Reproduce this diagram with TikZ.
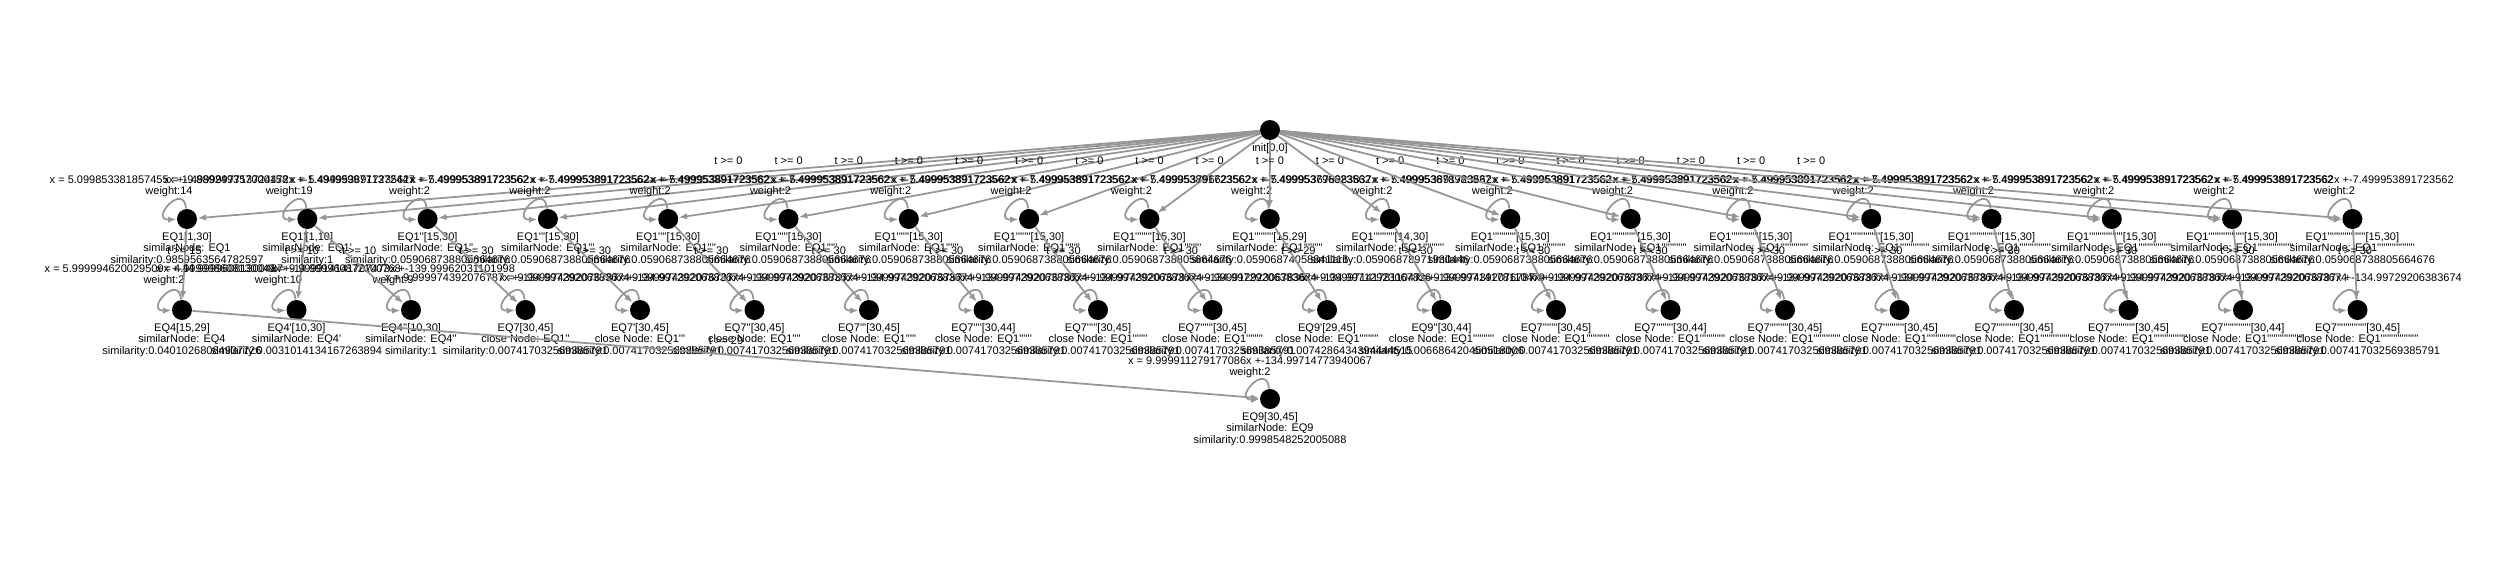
\documentclass[tikz,border=0pt]{standalone}
\usepackage{fontspec}
\setmainfont{Liberation Sans}
\usepackage{tikz}
\usetikzlibrary{arrows.meta,positioning}

\definecolor{edgegray}{RGB}{150,150,150}
\newcommand{\primes}[1]{\ifnum#1>0 \foreach \q in {1,...,#1}{\textquotesingle}\fi}

\tikzset{
  state/.style={circle,fill=black,inner sep=0pt,minimum size=8pt},
  info/.style={font=\fontsize{4.4}{4.6}\selectfont,align=center,inner sep=0pt},
  edge/.style={draw=edgegray,line width=0.7pt,-{Latex[length=3.4pt,width=2.6pt]}},
  guard/.style={info,midway,yshift=5.6pt},
  selfloop/.style={edge,out=95,in=182,min distance=11pt},
}

\begin{document}
\begin{tikzpicture}[x=0.4pt,y=0.4pt]
\useasboundingbox (0,0) rectangle (2500,562);

% init
\node[state] (init) at (1270,432) {};
\node[info,below=1pt of init] (init-txt) {init[0,0]};

% first level: EQ1 copies
\foreach \i/\intv/\sml/\xeq/\w in {
  0/{[1,30]}/{0.9859563564782597}/{x = 5.099853381857455x +-9.889249357000158}/14,
  1/{[1,10]}/{1}/{x = 1.4999997713724472x +-1.4949999771372447}/19,
  2/{[15,30]}/{0.059068738805664676}/{x = 5.499953891723562x +-7.499953891723562}/2,
  3/{[15,30]}/{0.059068738805664676}/{x = 5.499953891723562x +-7.499953891723562}/2,
  4/{[15,30]}/{0.059068738805664676}/{x = 5.499953891723562x +-7.499953891723562}/2,
  5/{[15,30]}/{0.059068738805664676}/{x = 5.499953891723562x +-7.499953891723562}/2,
  6/{[15,30]}/{0.059068738805664676}/{x = 5.499953891723562x +-7.499953891723562}/2,
  7/{[15,30]}/{0.059068738805664676}/{x = 5.499953891723562x +-7.499953891723562}/2,
  8/{[15,30]}/{0.059068738805664676}/{x = 5.499953891723562x +-7.499953891723562}/2,
  9/{[15,29]}/{0.05906874058841116}/{x = 5.499953796623562x +-7.499953796623562}/2,
  10/{[14,30]}/{0.05906878971930446}/{x = 5.499953678983837x +-7.499953678983837}/2,
  11/{[15,30]}/{0.059068738805664676}/{x = 5.499953891723562x +-7.499953891723562}/2,
  12/{[15,30]}/{0.059068738805664676}/{x = 5.499953891723562x +-7.499953891723562}/2,
  13/{[15,30]}/{0.059068738805664676}/{x = 5.499953891723562x +-7.499953891723562}/2,
  14/{[15,30]}/{0.059068738805664676}/{x = 5.499953891723562x +-7.499953891723562}/2,
  15/{[15,30]}/{0.059068738805664676}/{x = 5.499953891723562x +-7.499953891723562}/2,
  16/{[15,30]}/{0.059068738805664676}/{x = 5.499953891723562x +-7.499953891723562}/2,
  17/{[15,30]}/{0.059068738805664676}/{x = 5.499953891723562x +-7.499953891723562}/2,
  18/{[15,30]}/{0.059068738805664676}/{x = 5.499953891723562x +-7.499953891723562}/2}{
  \pgfmathsetmacro\xa{187+120.3*\i}
  \node[state] (eq1-\i) at (\xa,343) {};
  \node[info,below=1pt of eq1-\i] (eq1-\i-txt) {EQ1\primes{\i}\intv\\similarNode: EQ1\primes{\i}\\similarity:\sml};
  \node[info] (eq1-\i-eq) at (\xa-18,375.5) {\xeq\\weight:\w};
  \draw[selfloop] (eq1-\i) to (eq1-\i);
  \draw[edge] (init) -- node[guard] {t >= 0} (eq1-\i);
}

% second level: EQ4 copies
\node[state] (sub-0) at (182,252) {};
\node[info,below=1pt of sub-0] (sub-0-txt) {EQ4[15,29]\\similarNode: EQ4\\similarity:0.04010268084937726};
\node[info] (sub-0-eq) at (164,286.5) {x = 5.999994620029509x +-44.99996081300487\\weight:2};
\draw[selfloop] (sub-0) to (sub-0);
\draw[edge] (eq1-0) -- node[guard] {t >= 15} (sub-0);

\node[state] (sub-1) at (296.5,252) {};
\node[info,below=1pt of sub-1] (sub-1-txt) {EQ4\primes{1}[10,30]\\similarNode: EQ4\primes{1}\\similarity:0.0031014134167263894};
\node[info] (sub-1-eq) at (278.5,286.5) {x = 4.999998608130049x +-14.999960872100768\\weight:10};
\draw[selfloop] (sub-1) to (sub-1);
\draw[edge] (eq1-1) -- node[guard] {t >= 10} (sub-1);

\node[state] (sub-2) at (411,252) {};
\node[info,below=1pt of sub-2] (sub-2-txt) {EQ4\primes{2}[10,30]\\similarNode: EQ4\primes{2}\\similarity:1};
\node[info] (sub-2-eq) at (393,286.5) {x = 9.999914141707473x +-139.99962031101998\\weight:9};
\draw[selfloop] (sub-2) to (sub-2);
\draw[edge] (eq1-1) -- node[guard] {t >= 10} (sub-2);

% second level: EQ7 / EQ9 copies
\foreach \i/\nm/\np/\intv/\cl/\g/\sml/\xeq in {
  3/EQ7/0/{[30,45]}/2/30/{0.007417032569385791}/{x = 9.999974392076787x +-134.99729206383674},
  4/EQ7/1/{[30,45]}/3/30/{0.007417032569385791}/{x = 9.999974392076787x +-134.99729206383674},
  5/EQ7/2/{[30,45]}/4/30/{0.007417032569385791}/{x = 9.999974392076787x +-134.99729206383674},
  6/EQ7/3/{[30,45]}/5/30/{0.007417032569385791}/{x = 9.999974392076787x +-134.99729206383674},
  7/EQ7/4/{[30,44]}/6/30/{0.007417032569385791}/{x = 9.999974392076787x +-134.99729206383674},
  8/EQ7/5/{[30,45]}/7/30/{0.007417032569385791}/{x = 9.999974392076787x +-134.99729206383674},
  9/EQ7/6/{[30,45]}/8/30/{0.007417032569385791}/{x = 9.999974392076787x +-134.99729206383674},
  10/EQ9/1/{[29,45]}/9/29/{0.0074286434394444515}/{x = 9.999912923067836x +-134.99712923067836},
  11/EQ9/2/{[30,44]}/10/30/{0.006686420450518006}/{x = 9.999971417811047x +-134.99714178110479},
  12/EQ7/7/{[30,45]}/11/30/{0.007417032569385791}/{x = 9.999974392076787x +-134.99729206383674},
  13/EQ7/8/{[30,44]}/12/30/{0.007417032569385791}/{x = 9.999974392076787x +-134.99729206383674},
  14/EQ7/9/{[30,45]}/13/30/{0.007417032569385791}/{x = 9.999974392076787x +-134.99729206383674},
  15/EQ7/10/{[30,45]}/14/30/{0.007417032569385791}/{x = 9.999974392076787x +-134.99729206383674},
  16/EQ7/11/{[30,45]}/15/30/{0.007417032569385791}/{x = 9.999974392076787x +-134.99729206383674},
  17/EQ7/12/{[30,45]}/16/30/{0.007417032569385791}/{x = 9.999974392076787x +-134.99729206383674},
  18/EQ7/13/{[30,44]}/17/30/{0.007417032569385791}/{x = 9.999974392076787x +-134.99729206383674},
  19/EQ7/14/{[30,45]}/18/30/{0.007417032569385791}/{x = 9.999974392076787x +-134.99729206383674}}{
  \pgfmathsetmacro\xb{182+114.5*\i}
  \node[state] (sub-\i) at (\xb,252) {};
  \node[info,below=1pt of sub-\i] (sub-\i-txt) {\nm\primes{\np}\intv\\close Node: EQ1\primes{\cl}\\similarity:\sml};
  \node[info] (sub-\i-eq) at (\xb-18,284) {\xeq};
  \draw[selfloop] (sub-\i) to (sub-\i);
  \draw[edge] (eq1-\cl) -- node[guard] {t >= \g} (sub-\i);
}

% third level: EQ9
\node[state] (eq9) at (1270,163) {};
\node[info,below=1pt of eq9] (eq9-txt) {EQ9[30,45]\\similarNode: EQ9\\similarity:0.9998548252005088};
\node[info] (eq9-eq) at (1250,194.5) {x = 9.999911279177086x +-134.99714773940067\\weight:2};
\draw[selfloop] (eq9) to (eq9);
\draw[edge] (sub-0) -- node[guard] {t >= 29} (eq9);

\end{tikzpicture}
\end{document}
